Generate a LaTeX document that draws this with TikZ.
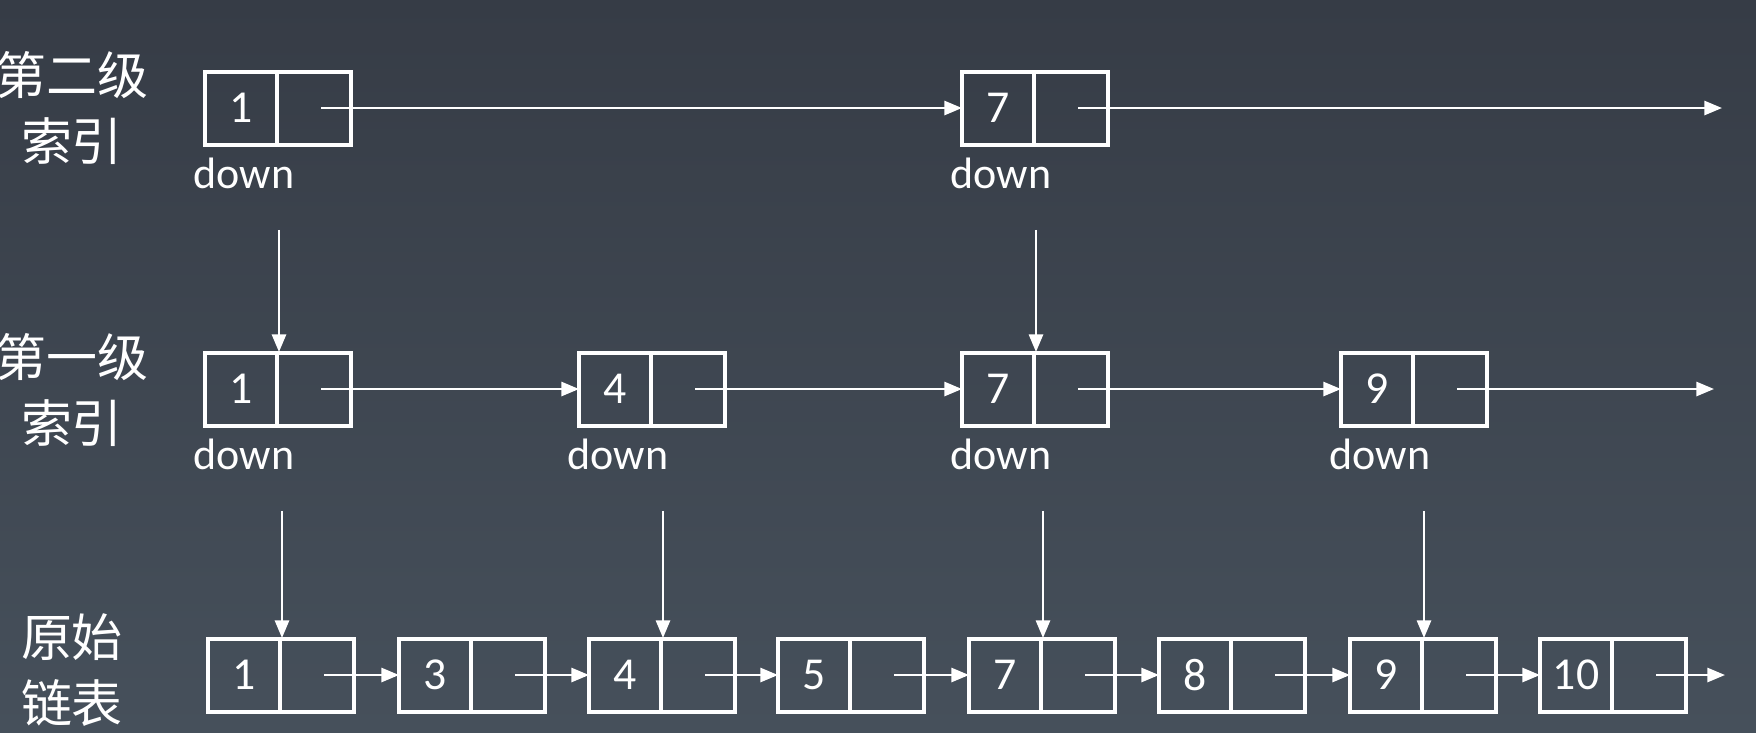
\documentclass[tikz,border=0pt]{standalone}
\usepackage{fontspec}
\setmainfont{Carlito}
\newfontfamily\cjk{Noto Sans CJK SC}
\usetikzlibrary{arrows.meta}
\definecolor{bgtop}{HTML}{363C46}
\definecolor{bgbot}{HTML}{46505B}
\begin{document}
\begin{tikzpicture}[x=0.01cm,y=-0.01cm,
  cell/.style={draw=white,line width=1.1pt,minimum width=73\pgflinewidth,inner sep=0},
  lab/.style={text=white,font=\fontsize{13}{13}\selectfont},
  dn/.style={text=white,font=\fontsize{12.5}{13}\selectfont},
  ttl/.style={text=white,font=\cjk\fontsize{14.5}{19}\selectfont,align=center},
  arr/.style={draw=white,line width=0.7pt,-{Triangle[length=5pt,width=4pt]}}]
\shade[top color=bgtop,bottom color=bgbot] (0,0) rectangle (1756,732);
\useasboundingbox (0,0) rectangle (1756,732);
% box macro
\newcommand\lbox[4]{% name, left x, center y, label
  \draw[white,line width=1.1pt] (#2,#3-36) rectangle ++(146,73);
  \draw[white,line width=1.1pt] (#2+72,#3-36) -- ++(0,73);
  \node[lab] (#1) at (#2+36,#3) {#4};
  \coordinate (#1p) at (#2+116,#3);
  \coordinate (#1in) at (#2,#3);
  \coordinate (#1top) at (#2+74,#3-37);
  \coordinate (#1bot) at (#2+74,#3+38);
}
\node[ttl] (t2) at (72,108) {第二级\\索引};
\node[ttl] (t1) at (72,390) {第一级\\索引};
\node[ttl] (t0) at (72,670) {原始\\链表};
% level 2
\lbox{a1}{205}{108}{1}
\lbox{a7}{962}{108}{7}
% level 1
\lbox{b1}{205}{389}{1}
\lbox{b4}{579}{389}{4}
\lbox{b7}{962}{389}{7}
\lbox{b9}{1341}{389}{9}
% level 0
\lbox{c1}{208}{675}{1}
\lbox{c3}{399}{675}{3}
\lbox{c4}{589}{675}{4}
\lbox{c5}{778}{675}{5}
\lbox{c7}{969}{675}{7}
\lbox{c8}{1159}{675}{8}
\lbox{c9}{1350}{675}{9}
\lbox{c10}{1540}{675}{10}
\coordinate (e2) at (1722,108);
\coordinate (e1) at (1714,389);
\coordinate (e0) at (1725,675);
\draw[arr] (a1p) -- (a7in);
\draw[arr] (a7p) -- (e2);
\draw[arr] (b1p) -- (b4in);
\draw[arr] (b4p) -- (b7in);
\draw[arr] (b7p) -- (b9in);
\draw[arr] (b9p) -- (e1);
\foreach \a/\b in {c1/c3,c3/c4,c4/c5,c5/c7,c7/c8,c8/c9,c9/c10} \draw[arr] (\a p) -- (\b in);
\draw[arr] (c10p) -- (e0);
% down labels and vertical arrows
\foreach \n/\t in {a1/b1,a7/b7,b1/c1,b4/c4,b7/c7,b9/c9}{
  \node[dn,anchor=north] (\n d) at ([xshift=-10]\n bot) {down};
  \draw[arr] ([yshift=-8]\n d.south -| \t top) -- (\t top);
}
\end{tikzpicture}
\end{document}
